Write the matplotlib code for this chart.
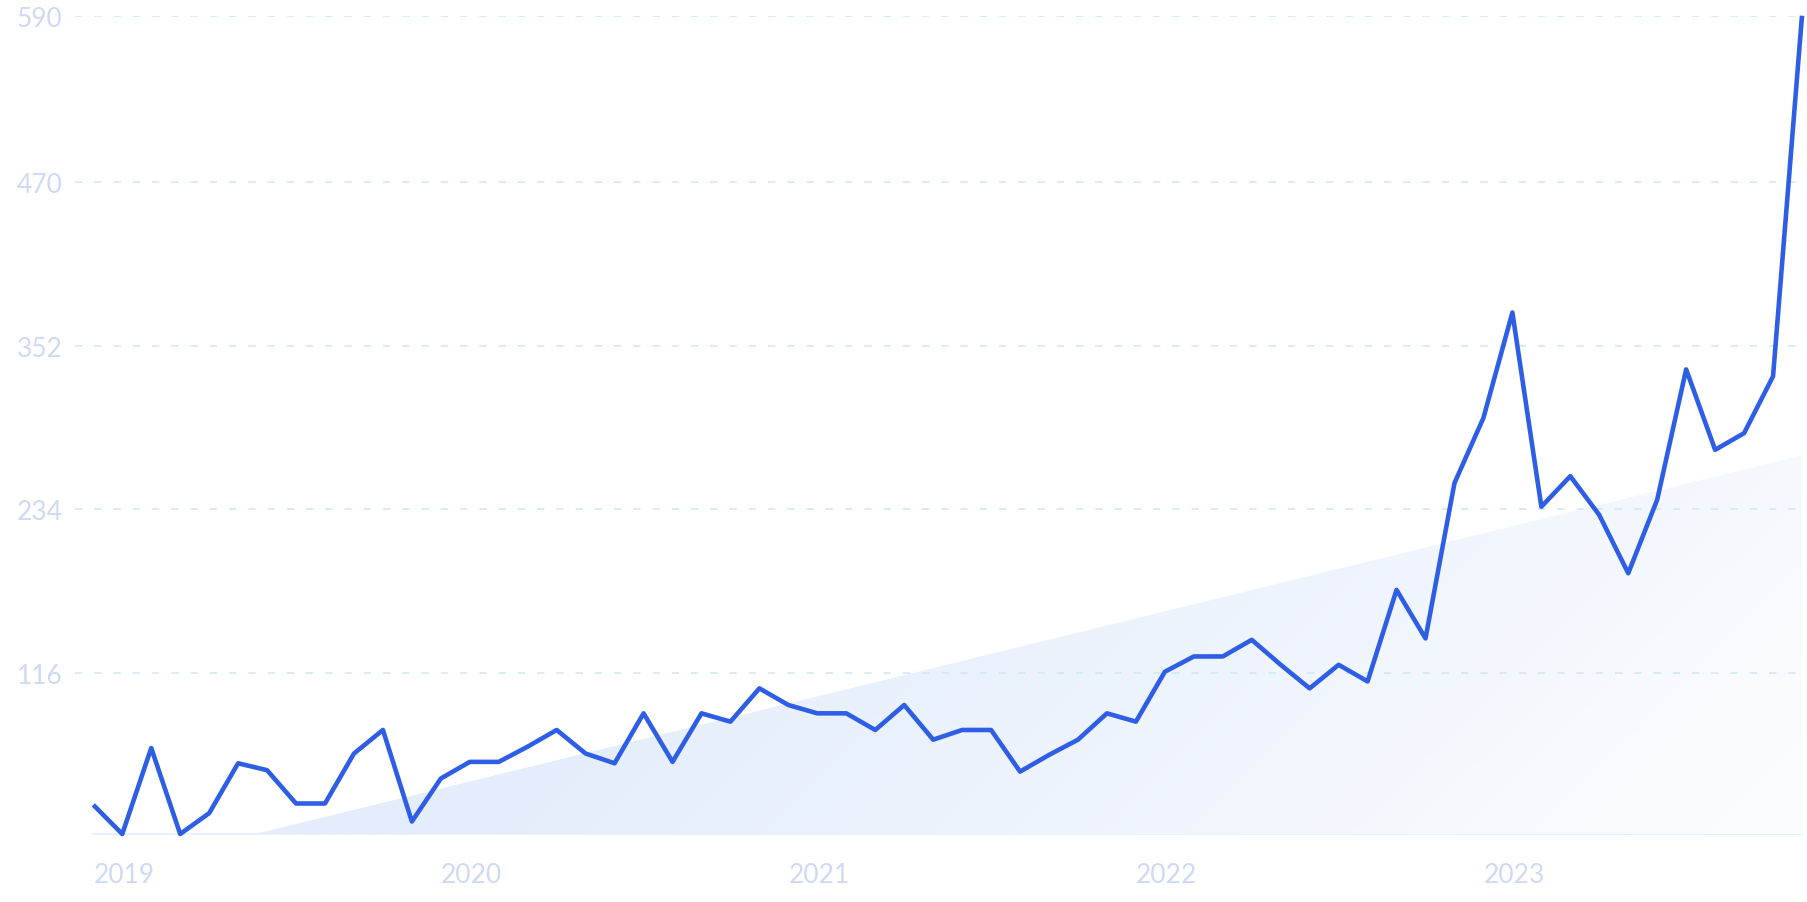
import numpy as np
import matplotlib
matplotlib.use("Agg")
import matplotlib.pyplot as plt
from matplotlib.patches import Polygon

# monthly values, Jan 2019 .. Dec 2023
values = [21, 0, 62, 0, 15, 51, 46, 22, 22, 58, 75, 9,
          40, 52, 52, 63, 75, 58, 51, 87, 52, 87, 81, 105,
          93, 87, 87, 75, 93, 68, 75, 75, 45, 57, 68, 87,
          81, 117, 128, 128, 140, 122, 105, 122, 110, 176, 141, 253,
          300, 376, 236, 258, 230, 188, 241, 335, 277, 289, 330, 590]
years = ["2019", "2020", "2021", "2022", "2023"]
year_start = [0, 12, 24, 36, 48]
yticks = [116, 234, 352, 470, 590]
# trend line (first month, last month)
trend_start = -28.6
trend_end = 273

W, H = 1807, 903
fig = plt.figure(figsize=(W / 100, H / 100), dpi=100)
ax = fig.add_axes([75 / W, 1 - 835 / H, (1802 - 75) / W, (835 - 16.7) / H])

x = np.arange(len(values))
xlim = (-0.632, 59.0)
ylim = (0, 590)

# gradient fill under the trend line
nx, ny = 400, 200
U, V = np.meshgrid(np.linspace(0, 1, nx), np.linspace(0, 1, ny))
t = np.clip(1.25 * (U - 0.22) + 0.6 * ((1 - V) - 0.95), 0, 1)
c0 = np.array([227, 237, 251]) / 255
c1 = np.array([252, 253, 255]) / 255
img = c0 + (c1 - c0) * t[..., None]
im = ax.imshow(img, extent=(xlim[0], xlim[1], ylim[0], ylim[1]), origin="lower",
               aspect="auto", interpolation="bilinear", zorder=1)
poly = Polygon([(x[0], trend_start), (x[-1], trend_end), (x[-1], 0), (x[0], 0)],
               closed=True, facecolor="none", edgecolor="none")
ax.add_patch(poly)
im.set_clip_path(poly)

ax.plot([x[0], x[-1]], [0, 0], color="#e8f0fb", lw=1.5, clip_on=False, zorder=0.5)

for v in yticks:
    ax.axhline(v, color="#cde7f6", lw=1.1, ls=(0, (4.8, 7.8)), zorder=2)

ax.plot(x, values, color="#2f5ee6", lw=3.3, solid_joinstyle="round",
        solid_capstyle="butt", zorder=3, clip_on=False)

ax.set_xlim(*xlim)
ax.set_ylim(*ylim)

lab = dict(family=["Lato", "DejaVu Sans"], weight="normal", size=19, color="#cfd9f6")
ax.set_yticks(yticks)
ax.set_yticklabels([str(v) for v in yticks], **lab)
ax.set_xticks(year_start)
ax.set_xticklabels(years, ha="left", **lab)
ax.tick_params(axis="y", length=0, pad=9)
ax.tick_params(axis="x", length=0, pad=20)
for s in ax.spines.values():
    s.set_visible(False)
ax.set_facecolor("none")

fig.savefig("out.png", dpi=100)
